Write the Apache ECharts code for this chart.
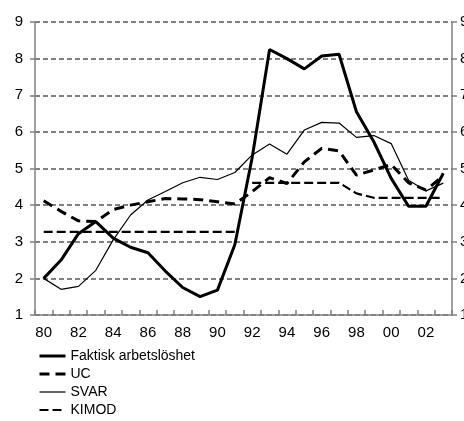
<!DOCTYPE html>
<html>
<head>
<meta charset="utf-8">
<script src="https://cdn.jsdelivr.net/npm/echarts@6/dist/echarts.min.js"></script>
<style>
  html, body { margin: 0; padding: 0; background: #fff; }
  #chart { width: 464px; height: 421px; }
</style>
</head>
<body>
<div id="chart"></div>
<script>
// years 1980-2003, shown as two-digit labels
var years = ['80','81','82','83','84','85','86','87','88','89','90','91',
             '92','93','94','95','96','97','98','99','00','01','02','03'];

var faktisk = [2.0, 2.5, 3.22, 3.55, 3.1, 2.85, 2.7, 2.2, 1.75, 1.5, 1.68, 2.92,
               5.3, 8.25, 8.0, 7.72, 8.07, 8.12, 6.55, 5.73, 4.73, 3.97, 3.97, 4.87];
var uc      = [4.12, 3.83, 3.57, 3.55, 3.88, 4.0, 4.09, 4.18, 4.17, 4.15, 4.09, 4.03,
               4.37, 4.75, 4.59, 5.18, 5.55, 5.48, 4.82, 4.96, 5.11, 4.61, 4.41, 4.8];
var svar    = [2.0, 1.7, 1.78, 2.22, 3.05, 3.73, 4.14, 4.37, 4.61, 4.76, 4.7, 4.89,
               5.37, 5.67, 5.39, 6.05, 6.26, 6.24, 5.85, 5.9, 5.68, 4.68, 4.39, 4.6];
var kimod   = [3.27, 3.27, 3.27, 3.27, 3.27, 3.27, 3.27, 3.27, 3.27, 3.27, 3.27, 3.27,
               4.61, 4.61, 4.61, 4.61, 4.61, 4.61, 4.32, 4.2, 4.2, 4.2, 4.2, 4.2];
// KIMOD is drawn as two pieces (no joining segment between 91 and 92)
var kimodBreak = 12;

var seriesNames = ['Faktisk arbetslöshet', 'UC', 'SVAR', 'KIMOD'];

var chart = echarts.init(document.getElementById('chart'));

var fontFam = '"Liberation Sans", Arial, sans-serif';
var gray = '#808080';

function yAxis(pos) {
    return {
        type: 'value',
        position: pos,
        min: 1,
        max: 9,
        interval: 1,
        axisLine: { show: true, lineStyle: { color: gray, width: 1.5 } },
        axisTick: { show: true, length: 5, lineStyle: { color: gray, width: 1.5 } },
        axisLabel: { color: '#000', fontSize: 15, fontFamily: fontFam,
                     margin: pos === 'left' ? 12 : 8 },
        splitLine: pos === 'left' ? {
            show: true,
            lineStyle: { color: gray, width: 2, type: [5, 3] }
        } : { show: false }
    };
}

var kimodStyle = { color: '#000', width: 2.2, type: [9, 4] };

chart.setOption({
    animation: false,
    backgroundColor: '#fff',
    grid: { left: 35, right: 12, top: 22, bottom: 106,
            containLabel: false, outerBoundsMode: 'none' },
    legend: {
        orient: 'vertical',
        left: 38,
        top: 349,
        padding: 0,
        itemWidth: 26,
        itemHeight: 14,
        itemGap: 4,
        itemStyle: { opacity: 0 },
        lineStyle: { width: 'inherit' },
        textStyle: { color: '#000', fontSize: 14, fontFamily: fontFam },
        data: seriesNames
    },
    xAxis: {
        type: 'category',
        data: years,
        boundaryGap: true,
        axisLine: { show: true, lineStyle: { color: gray, width: 1.5 } },
        axisTick: { show: true, inside: true, interval: 0, length: 5,
                    lineStyle: { color: gray, width: 1.5 } },
        axisLabel: { color: '#000', fontSize: 15, fontFamily: fontFam, interval: 1, margin: 10 },
        splitLine: { show: false }
    },
    yAxis: [yAxis('left'), yAxis('right')],
    series: [
        {
            name: seriesNames[0], type: 'line', data: faktisk, symbol: 'none', z: 5,
            lineStyle: { color: '#000', width: 3 }, itemStyle: { color: '#000' }
        },
        {
            name: seriesNames[1], type: 'line', data: uc, symbol: 'none', z: 4,
            lineStyle: { color: '#000', width: 3, type: [10, 6] }, itemStyle: { color: '#000' }
        },
        {
            name: seriesNames[2], type: 'line', data: svar, symbol: 'none', z: 3,
            lineStyle: { color: '#000', width: 1.2 }, itemStyle: { color: '#000' }
        },
        {
            name: seriesNames[3], type: 'line', symbol: 'none', z: 2,
            data: kimod.map(function (v, i) { return i < kimodBreak ? v : null; }),
            lineStyle: kimodStyle, itemStyle: { color: '#000' }
        },
        {
            name: seriesNames[3], type: 'line', symbol: 'none', z: 2,
            data: kimod.map(function (v, i) { return i >= kimodBreak ? v : null; }),
            lineStyle: kimodStyle, itemStyle: { color: '#000' }
        }
    ]
});
</script>
</body>
</html>
